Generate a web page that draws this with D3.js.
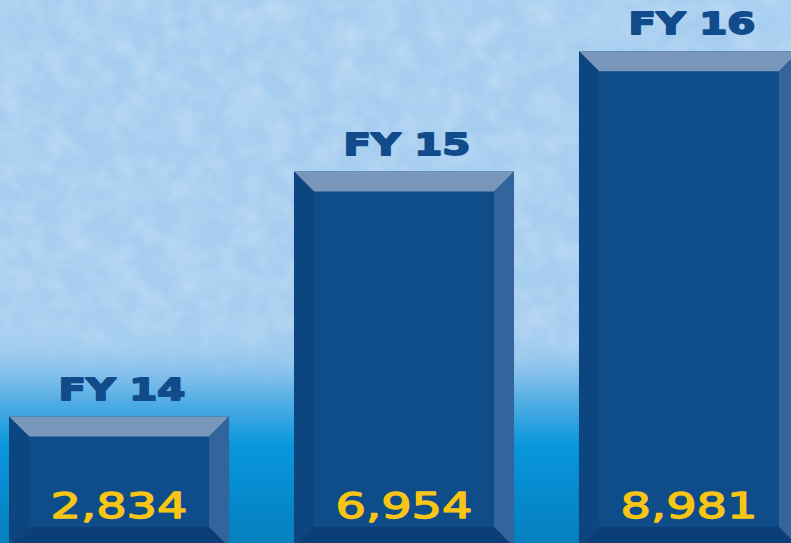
<!DOCTYPE html>
<html>
<head>
<meta charset="utf-8">
<script src="https://cdn.jsdelivr.net/npm/d3@7"></script>
<style>
  html, body { margin: 0; padding: 0; overflow: hidden; background: #a6cdef; }
</style>
</head>
<body>
<script>
// ---- data ----
const years = ["FY 14", "FY 15", "FY 16"];
const totals = [2834, 6954, 8981];

// ---- config ----
const width = 791;
const height = 543;
const bevel = 20;
const barBottom = 547;

const svg = d3.select("body").append("svg")
  .attr("width", width)
  .attr("height", height);

const defs = svg.append("defs");

// paper texture for the background
function noiseFilter(id, freq, octaves, seed, matrix) {
  const f = defs.append("filter")
    .attr("id", id)
    .attr("x", 0).attr("y", 0).attr("width", "100%").attr("height", "100%");
  f.append("feTurbulence")
    .attr("type", "fractalNoise")
    .attr("baseFrequency", freq)
    .attr("numOctaves", octaves)
    .attr("seed", seed);
  f.append("feColorMatrix").attr("type", "matrix").attr("values", matrix);
  f.append("feComposite").attr("in2", "SourceGraphic").attr("operator", "in");
}
noiseFilter("paperDark", 0.03, 4, 7, "0 0 0 0 0.52  0 0 0 0 0.72  0 0 0 0 0.91  1.8 0 0 0 -0.72");
noiseFilter("paperLight", 0.045, 3, 21, "0 0 0 0 0.72  0 0 0 0 0.85  0 0 0 0 0.96  1.8 0 0 0 -0.75");

// bright blue band at the bottom
const grad = defs.append("linearGradient")
  .attr("id", "sea")
  .attr("gradientUnits", "userSpaceOnUse")
  .attr("x1", 0).attr("y1", 325).attr("x2", 0).attr("y2", height);
[
  [0, "#a6cdef", 0],
  [0.12, "#98c8ee", 0.6],
  [0.35, "#52ade4", 1],
  [0.55, "#0a97dc", 1],
  [0.8, "#0589cc", 1],
  [1, "#0680bf", 1]
].forEach(([o, c, a]) => grad.append("stop")
  .attr("offset", o).attr("stop-color", c).attr("stop-opacity", a));

svg.append("rect").attr("width", width).attr("height", height).attr("fill", "#a6cdef");
svg.append("rect").attr("width", width).attr("height", height)
  .attr("fill", "#fff").attr("filter", "url(#paperDark)").attr("opacity", 0.6);
svg.append("rect").attr("width", width).attr("height", height)
  .attr("fill", "#fff").attr("filter", "url(#paperLight)").attr("opacity", 0.35);
svg.append("rect").attr("width", width).attr("height", height).attr("fill", "url(#sea)");

// ---- scales ----
const x = d3.scaleBand()
  .domain(years)
  .range([9, 799])
  .paddingInner(0.228)
  .paddingOuter(0);

const y = d3.scaleLinear()
  .domain([0, 9000])
  .range([585, 50]);

const rows = years.map((k, i) => ({ year: k, value: totals[i] }));

// ---- bevelled bars ----
const bar = svg.selectAll("g.bar")
  .data(rows)
  .join("g")
  .attr("class", "bar");

function facets(d) {
  const x0 = x(d.year), x1 = x0 + x.bandwidth();
  const y0 = y(d.value), y1 = barBottom, b = bevel;
  return [
    { fill: "#0f4c8a", pts: [[x0, y0], [x1, y0], [x1, y1], [x0, y1]] },
    { fill: "#7897bb", pts: [[x0, y0], [x1, y0], [x1 - b, y0 + b], [x0 + b, y0 + b]] },
    { fill: "#0d4580", pts: [[x0, y0], [x0 + b, y0 + b], [x0 + b, y1 - b], [x0, y1]] },
    { fill: "#33659c", pts: [[x1, y0], [x1, y1], [x1 - b, y1 - b], [x1 - b, y0 + b]] },
    { fill: "#0c3e77", pts: [[x0, y1], [x1, y1], [x1 - b, y1 - b], [x0 + b, y1 - b]] }
  ];
}

bar.selectAll("polygon")
  .data(d => facets(d))
  .join("polygon")
  .attr("points", d => d.pts.map(p => p.join(",")).join(" "))
  .attr("fill", d => d.fill);

// year label above each bar
bar.append("text")
  .attr("transform", d => `translate(${x(d.year) + x.bandwidth() / 2 + 3},${y(d.value) - 17}) scale(1.3,1)`)
  .attr("text-anchor", "middle")
  .attr("font-family", "DejaVu Sans")
  .attr("font-weight", "bold")
  .attr("font-size", 31)
  .attr("fill", "#114b8b")
  .attr("stroke", "#114b8b")
  .attr("stroke-width", 1.8)
  .attr("stroke-linejoin", "round")
  .text(d => d.year);

// value inside the bar
const fmt = d3.format(",");
bar.append("text")
  .attr("transform", d => `translate(${x(d.year) + x.bandwidth() / 2},518) scale(1.33,1)`)
  .attr("text-anchor", "middle")
  .attr("font-family", "DejaVu Sans")
  .attr("font-size", 36)
  .attr("fill", "#f8c515")
  .attr("stroke", "#f8c515")
  .attr("stroke-width", 1.3)
  .attr("stroke-linejoin", "round")
  .text(d => fmt(d.value));
</script>
</body>
</html>
